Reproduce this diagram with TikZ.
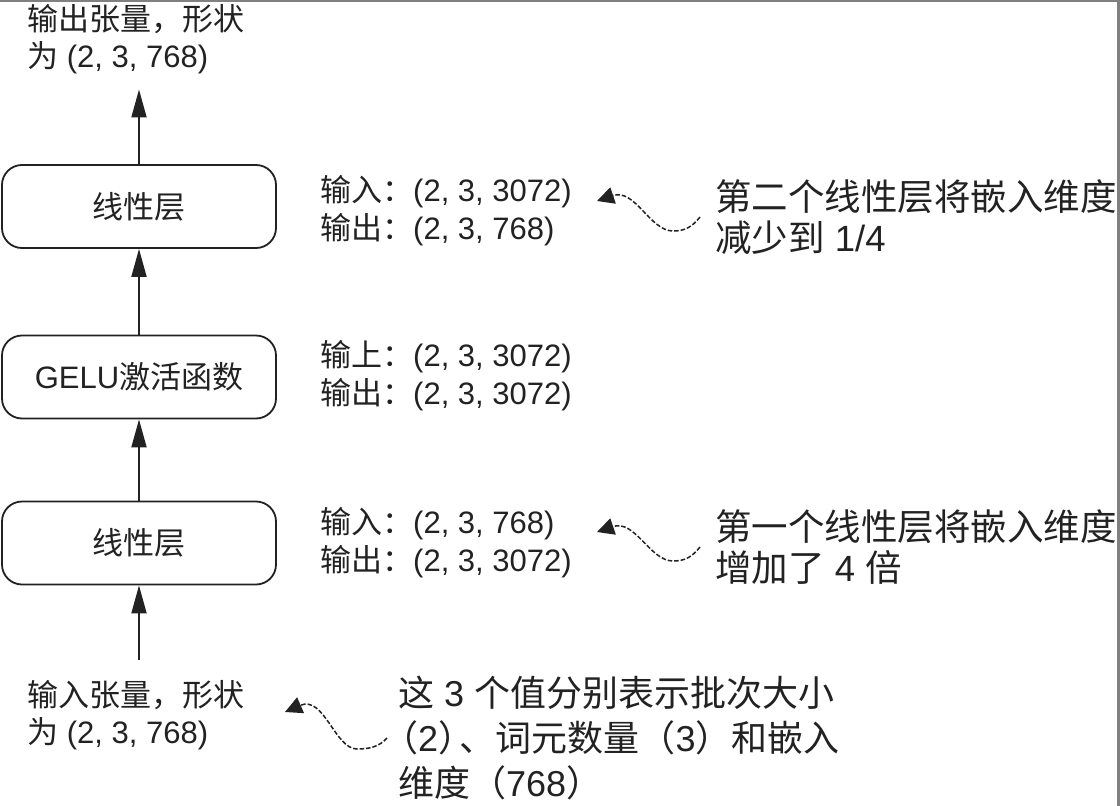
\documentclass[tikz,border=0pt]{standalone}
\usepackage{fontspec}
\setmainfont{Liberation Sans}
\newfontfamily\cjk{Noto Sans CJK SC}
\usetikzlibrary{arrows.meta}
\definecolor{ink}{HTML}{222222}
\definecolor{framegray}{HTML}{808080}
\begin{document}
\begin{tikzpicture}[x=1pt,y=-1pt,
  box/.style={draw=ink, line width=1.8pt, rounded corners=20pt, minimum width=274pt, minimum height=83pt, inner sep=0pt, text=ink, font=\fontsize{31}{37}\selectfont},
  lbl/.style={anchor=west, align=left, inner sep=0pt, text=ink, font=\fontsize{31}{38}\selectfont},
  side/.style={anchor=west, align=left, inner sep=0pt, text=ink, font=\fontsize{31}{37}\selectfont},
  note/.style={anchor=west, align=left, inner sep=0pt, text=ink, font=\fontsize{36.5}{41}\selectfont},
  arr/.style={draw=ink, line width=1.8pt, -{Triangle[length=28pt,width=15pt]}},
  wave/.style={draw=ink, line width=1.5pt, dash pattern=on 4.5pt off 2pt, -{Triangle[length=17pt,width=17pt]}}]

\useasboundingbox (0,0) rectangle (1120,806);
\fill[white] (0,0) rectangle (1120,806);
\fill[framegray] (0,0) rectangle (1120,1.5);
\fill[framegray] (1117,0) rectangle (1120,806);

% main chain
\node[box] (box1) at (139,206.5) {{\cjk 线性层}};
\node[box] (box2) at (139,377) {GELU{\cjk 激活函数}};
\node[box] (box3) at (139,543) {{\cjk 线性层}};

\node[side] (outtxt) at (27,39.5) {{\cjk 输出张量，形状}\\{\cjk 为} (2, 3, 768)};
\node[side] (intxt) at (27,715) {{\cjk 输入张量，形状}\\{\cjk 为} (2, 3, 768)};

\draw[arr, shorten >=15pt] (box1.north) -- (box1.north |- outtxt.south);
\draw[arr] (box2.north) -- (box1.south);
\draw[arr] (box3.north) -- (box2.south);
\draw[arr, shorten <=20pt] (box3.south |- intxt.north) -- (box3.south);

% shape annotations
\node[lbl] (ann1) at (320,211) {{\cjk 输入：}(2, 3, 3072)\\{\cjk 输出：}(2, 3, 768)};
\node[lbl] (ann2) at (320,375.5) {{\cjk 输上：}(2, 3, 3072)\\{\cjk 输出：}(2, 3, 3072)};
\node[lbl] (ann3) at (320,543) {{\cjk 输入：}(2, 3, 768)\\{\cjk 输出：}(2, 3, 3072)};

% explanatory notes
\node[note] (note1) at (715,217) {{\cjk 第二个线性层将嵌入维度}\\{\cjk 减少到} 1/4};
\node[note] (note2) at (715,547) {{\cjk 第一个线性层将嵌入维度}\\{\cjk 增加了} 4 {\cjk 倍}};
\node[note, font=\fontsize{36}{45}\selectfont] (note3) at (398,738)
  {{\cjk 这} 3 {\cjk 个值分别表示批次大小}\\\kern-0.45em{\cjk （}2{\cjk ）}\kern-0.4em{\cjk 、词元数量（}3{\cjk ）和嵌入}\\{\cjk 维度（}768{\cjk ）}};

% wavy pointers
\coordinate (s1) at ([xshift=-15pt]note1.west);
\coordinate (e1) at (597,201);
\coordinate (s2) at ([xshift=-15pt]note2.west);
\coordinate (e2) at (597,532);
\coordinate (s3) at ([xshift=-11pt]note3.west);
\coordinate (e3) at (285,712);

\draw[wave] (s1) .. controls +(-8,10) and +(12,0) .. ++(-27,14) .. controls +(-23,0) and +(38,-13) .. (e1);
\draw[wave] (s2) .. controls +(-8,10) and +(12,0) .. ++(-27,14) .. controls +(-23,0) and +(38,-13) .. (e2);
\draw[wave] (s3) .. controls +(-8,9) and +(12,0) .. ++(-30,11) .. controls +(-22,0) and +(39,-17) .. (e3);
\end{tikzpicture}
\end{document}
